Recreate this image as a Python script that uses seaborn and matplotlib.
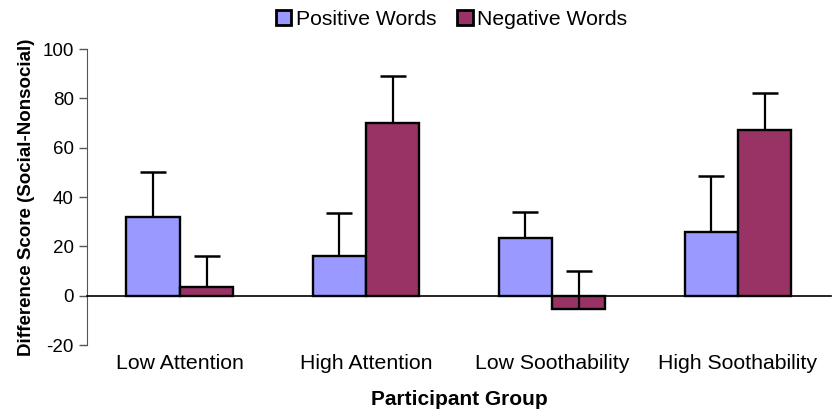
import matplotlib
matplotlib.use("Agg")
import matplotlib.pyplot as plt
import numpy as np
import pandas as pd
import seaborn as sns

groups = ["Low Attention", "High Attention", "Low Soothability", "High Soothability"]
positive = [32, 16, 23.5, 26]
negative = [3.5, 70, -5.5, 67]
positive_err = [18, 17.5, 10.5, 22.5]
negative_err = [12.5, 19, 15.5, 15]

df = pd.DataFrame({
    "group": groups * 2,
    "score": positive + negative,
    "words": ["Positive Words"] * 4 + ["Negative Words"] * 4,
})

sns.set_style("white")
plt.rcParams["font.family"] = ["Liberation Sans", "DejaVu Sans"]
plt.rcParams["text.color"] = "black"
plt.rcParams["axes.labelcolor"] = "black"
plt.rcParams["xtick.color"] = "black"
plt.rcParams["ytick.color"] = "black"
plt.rcParams["axes.unicode_minus"] = False

fig = plt.figure(figsize=(8.33, 4.12), dpi=100)
ax = fig.add_axes([0.1044, 0.1626, 0.8932, 0.7184])

sns.barplot(data=df, x="group", y="score", hue="words",
            palette=["#9999FF", "#993366"], saturation=1, edgecolor="black",
            linewidth=1.7, width=0.575, errorbar=None, ax=ax, zorder=2)

# one-sided (upward) error bars, no lower cap
for cont, errs in zip(ax.containers, [positive_err, negative_err]):
    xs = [p.get_x() + p.get_width() / 2 for p in cont.patches]
    ys = cont.datavalues
    eb = ax.errorbar(xs, ys, yerr=[np.zeros(len(errs)), errs], fmt="none",
                     ecolor="black", elinewidth=1.6, capsize=9.5, capthick=1.8, zorder=3)
    eb[1][0].set_visible(False)

ax.set_xlim(-0.5, 3.5)
ax.set_ylim(-20, 100)
ax.set_yticks(range(-20, 101, 20))

for s in ["top", "right"]:
    ax.spines[s].set_visible(False)
ax.spines["left"].set_color("#555555")
ax.spines["bottom"].set_position(("data", 0))
ax.spines["bottom"].set_color("black")
ax.spines["bottom"].set_linewidth(1.2)

ax.set_xticks(np.arange(-0.5, 3.6, 1), minor=True)
ax.tick_params(axis="x", which="minor", direction="out", length=6, color="#555555", width=1.2)
ax.tick_params(axis="x", which="major", length=0, pad=42, labelsize=15.3)
ax.tick_params(axis="y", direction="out", length=6, color="#555555", width=1, labelsize=13.5, left=True)

ax.set_xlabel("Participant Group", fontsize=15, fontweight="bold", labelpad=12)
ax.set_ylabel("Difference Score (Social-Nonsocial)", fontsize=13.5, fontweight="bold", labelpad=5)

leg = ax.legend(loc="center", bbox_to_anchor=(0.49, 1.10), ncol=2, frameon=False,
                fontsize=15.2, handlelength=0.75, handleheight=0.75, handletextpad=0.2,
                columnspacing=1.0, borderaxespad=0)
for h in leg.legend_handles:
    h.set_linewidth(2)

fig.savefig("out.png", dpi=100)
